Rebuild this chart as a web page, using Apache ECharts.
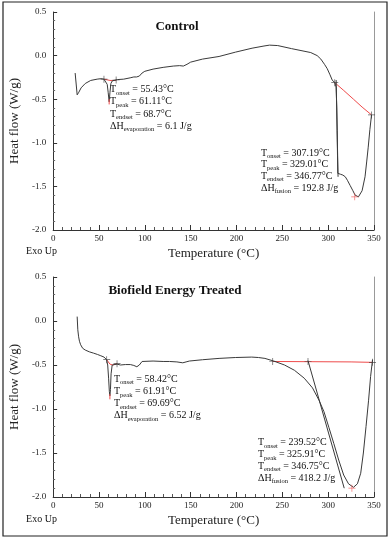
<!DOCTYPE html>
<html>
<head>
<meta charset="utf-8">
<script src="https://cdn.jsdelivr.net/npm/echarts@6/dist/echarts.min.js"></script>
<style>
html,body{margin:0;padding:0;background:#fff;}
#chart{width:392px;height:541px;}
</style>
</head>
<body>
<div id="chart"></div>
<script>
// ---------- DATA ----------
const xTicks = [0, 50, 100, 150, 200, 250, 300, 350];
const yTicks = [-2.0, -1.5, -1.0, -0.5, 0.0, 0.5];

const controlTemp = [24.0,26.2,28,30.5,35,41,48,52,55.4,57,59,60,61.1,62,63,64.5,66.3,70,77,84,88,91,94,97,100,109,120,131,138,142,146,150,163,181,199,217,230,236,245,260,281,288,292,296,299,302,304.4,307.2,308.7,309.4,309.8,310.2,310.5,313.3,316,318.7,321,324,327,329.4,333,335,337,340.2,342,343.7,345.5,347.3];
const controlFlow = [-0.20,-0.45,-0.42,-0.37,-0.32,-0.285,-0.27,-0.265,-0.27,-0.29,-0.33,-0.42,-0.53,-0.42,-0.32,-0.29,-0.28,-0.275,-0.27,-0.255,-0.245,-0.245,-0.235,-0.2,-0.18,-0.155,-0.135,-0.12,-0.115,-0.12,-0.1,-0.075,-0.04,-0.01,0.04,0.085,0.11,0.12,0.115,0.08,0.035,0.0,-0.04,-0.1,-0.15,-0.22,-0.28,-0.31,-0.36,-0.6,-0.86,-1.15,-1.35,-1.36,-1.37,-1.39,-1.43,-1.49,-1.55,-1.60,-1.62,-1.60,-1.55,-1.39,-1.22,-1.05,-0.85,-0.68];

const treatedTemp = [26.2,26.9,27.8,28.7,30,32.2,35,39.4,44,48.3,52,55.5,58.4,59.5,60.5,61.3,61.9,62.5,63.2,64.4,66,69.7,73.4,78.8,84.2,88,91.3,94,97,98.5,109,120,127,135,141.4,145,148.6,163,181,198.7,216.6,224,231,240.6,252.4,263.2,273.9,282.9,290,295.4,300.8,306.1,311.5,316.9,322.2,327.6,331.9,335.5,338.4,341.3,344.1,346.3,348.4];
const treatedFlow = [0.05,-0.1,-0.18,-0.23,-0.27,-0.31,-0.33,-0.35,-0.365,-0.38,-0.395,-0.41,-0.44,-0.5,-0.65,-0.8,-0.85,-0.78,-0.6,-0.5,-0.49,-0.49,-0.5,-0.495,-0.495,-0.505,-0.52,-0.5,-0.46,-0.455,-0.455,-0.46,-0.46,-0.465,-0.475,-0.465,-0.455,-0.44,-0.425,-0.415,-0.41,-0.415,-0.425,-0.455,-0.50,-0.56,-0.65,-0.76,-0.90,-1.03,-1.21,-1.39,-1.58,-1.75,-1.85,-1.89,-1.85,-1.73,-1.50,-1.20,-0.90,-0.63,-0.44];

// red integration baselines
const ctrlBase1Temp = [55.43, 62, 68.7];
const ctrlBase1Flow = [-0.27, -0.285, -0.285];
const ctrlBase2Temp = [307.19, 317, 327.6, 337, 347.3];
const ctrlBase2Flow = [-0.31, -0.40, -0.50, -0.59, -0.68];
const trtBase1Temp = [58.42, 62, 65, 69.69];
const trtBase1Flow = [-0.44, -0.49, -0.50, -0.485];
const trtBase2Temp = [239.52, 325, 348.4];
const trtBase2Flow = [-0.46, -0.465, -0.47];

// red peak tips
const ctrlTipTemp = [61.11, 61.11];
const ctrlTipFlow = [-0.50, -0.56];
const trtTipTemp = [61.91, 61.91];
const trtTipFlow = [-0.83, -0.89];

// tangent lines
const ctrlTanTemp = [308.7, 310.8];
const ctrlTanFlow = [-0.28, -1.39];
const trtTanTemp = [278, 317.5];
const trtTanFlow = [-0.45, -1.9];

// '+' markers (onset / endset)
const ctrlMarkTemp = [55.43, 68.7, 307.19, 347.3];
const ctrlMarkFlow = [-0.27, -0.28, -0.31, -0.68];
const ctrlPeakTemp = [329.01];
const ctrlPeakFlow = [-1.62];
const trtMarkTemp = [58.42, 69.69, 239.52, 278, 348.4];
const trtMarkFlow = [-0.44, -0.485, -0.46, -0.46, -0.47];
const trtPeakTemp = [325.91];
const trtPeakFlow = [-1.9];

// annotation texts
const ctrlNote1 = [['T','onset',' = 55.43°C'],['T','peak',' = 61.11°C'],['T','endset',' = 68.7°C'],['ΔH','evaporation',' = 6.1 J/g']];
const ctrlNote2 = [['T','onset',' = 307.19°C'],['T','peak',' = 329.01°C'],['T','endset',' = 346.77°C'],['ΔH','fusion',' = 192.8 J/g']];
const trtNote1 = [['T','onset',' = 58.42°C'],['T','peak',' = 61.91°C'],['T','endset',' = 69.69°C'],['ΔH','evaporation',' = 6.52 J/g']];
const trtNote2 = [['T','onset',' = 239.52°C'],['T','peak',' = 325.91°C'],['T','endset',' = 346.75°C'],['ΔH','fusion',' = 418.2 J/g']];

// ---------- CHART ----------
const zip = (a, b) => a.map((v, i) => [v, b[i]]);
const SERIF = '"Liberation Serif","DejaVu Serif",serif';
const CURVE = '#3a3a3a';
const RED = '#ef4b4b';
const PLUS = 'path://M4.5,0h1v10h-1zM0,4.5h10v1h-10z';

const chart = echarts.init(document.getElementById('chart'), null, {renderer: 'canvas'});

function xAxisDef(gi) {
  return {
    gridIndex: gi, type: 'value', min: 0, max: 350, interval: 50,
    name: 'Temperature (°C)', nameLocation: 'middle', nameGap: 17,
    nameTextStyle: {fontFamily: SERIF, fontSize: 13, color: '#222'},
    axisLine: {onZero: false, lineStyle: {color: '#333', width: 1}},
    axisTick: {inside: true, length: 5, lineStyle: {color: '#333'}},
    minorTick: {show: true, splitNumber: 5, length: 3, lineStyle: {color: '#555'}},
    axisLabel: {fontFamily: SERIF, fontSize: 9, color: '#222', margin: 4,
      customValues: xTicks},
    splitLine: {show: false}
  };
}
function yAxisDef(gi) {
  return {
    gridIndex: gi, type: 'value', min: -2, max: 0.5, interval: 0.5,
    name: 'Heat flow (W/g)', nameLocation: 'middle', nameGap: 22, nameRotate: 90,
    nameTextStyle: {fontFamily: SERIF, fontSize: 13, color: '#222'},
    axisLine: {show: true, onZero: false, lineStyle: {color: '#333', width: 1}},
    axisTick: {show: true, inside: true, length: 4, lineStyle: {color: '#333'}},
    minorTick: {show: true, splitNumber: 5, length: 2, lineStyle: {color: '#666'}},
    axisLabel: {fontFamily: SERIF, fontSize: 9, color: '#222', margin: 7,
      formatter: v => v.toFixed(1)},
    splitLine: {show: false}
  };
}
function rightAxisDef(gi) {
  return {
    gridIndex: gi, type: 'value', min: -2, max: 0.5, interval: 0.5, position: 'right',
    axisLine: {show: true, onZero: false, lineStyle: {color: '#999', width: 1}},
    axisTick: {show: false}, axisLabel: {show: false}, splitLine: {show: false}
  };
}
function lineS(xi, yi, data, color, w) {
  return {type: 'line', xAxisIndex: xi, yAxisIndex: yi, data: data, showSymbol: false,
    symbol: 'none', smooth: false, lineStyle: {color: color, width: w || 1}, silent: true, z: 3};
}
function markS(xi, yi, data, color) {
  return {type: 'scatter', xAxisIndex: xi, yAxisIndex: yi, data: data, symbol: PLUS,
    symbolSize: 7, itemStyle: {color: color}, silent: true, z: 5};
}
function noteText(rows, x, y, lh) {
  const text = rows.map(r => '{m|' + r[0] + '}{s|' + r[1] + '}{m|' + r[2] + '}').join('\n');
  return {type: 'text', left: x, top: y, silent: true,
    style: {text: text, fontFamily: SERIF, fill: '#111',
      rich: {
        m: {fontFamily: SERIF, fontSize: 10, lineHeight: lh, fill: '#111', verticalAlign: 'middle'},
        s: {fontFamily: SERIF, fontSize: 6.5, lineHeight: 6, fill: '#111', verticalAlign: 'bottom', padding: [0, 0, -1, 0]}
      }}};
}
function plainText(t, cx, cy, size, bold) {
  return {type: 'text', x: cx, y: cy, silent: true,
    style: {text: t, fontFamily: SERIF, fontSize: size, fontWeight: bold ? 'bold' : 'normal',
      fill: '#111', align: 'center', verticalAlign: 'middle'}};
}

const option = {
  animation: false,
  backgroundColor: '#fff',
  grid: [
    {left: 48, top: 12, width: 326, height: 218},
    {left: 48, top: 277, width: 326, height: 220}
  ],
  xAxis: [xAxisDef(0), xAxisDef(1)],
  yAxis: [yAxisDef(0), rightAxisDef(0), yAxisDef(1), rightAxisDef(1)],
  series: [
    lineS(0, 0, zip(ctrlBase1Temp, ctrlBase1Flow), RED),
    lineS(0, 0, zip(ctrlBase2Temp, ctrlBase2Flow), RED),
    lineS(0, 0, zip(controlTemp, controlFlow), CURVE),
    lineS(0, 0, zip(ctrlTanTemp, ctrlTanFlow), CURVE),
    lineS(0, 0, zip(ctrlTipTemp, ctrlTipFlow), RED),
    markS(0, 0, zip(ctrlMarkTemp, ctrlMarkFlow), '#333'),
    markS(0, 0, zip(ctrlPeakTemp, ctrlPeakFlow), RED),

    lineS(1, 2, zip(trtBase1Temp, trtBase1Flow), RED),
    lineS(1, 2, zip(trtBase2Temp, trtBase2Flow), RED),
    lineS(1, 2, zip(treatedTemp, treatedFlow), CURVE),
    lineS(1, 2, zip(trtTanTemp, trtTanFlow), CURVE),
    lineS(1, 2, zip(trtTipTemp, trtTipFlow), RED),
    markS(1, 2, zip(trtMarkTemp, trtMarkFlow), '#333'),
    markS(1, 2, zip(trtPeakTemp, trtPeakFlow), RED)
  ],
  graphic: [
    {type: 'rect', shape: {x: 3, y: 2, width: 384, height: 534}, silent: true,
      style: {fill: 'none', stroke: '#222', lineWidth: 1.2}},
    plainText('Control', 177, 27, 13, true),
    plainText('Biofield Energy Treated', 175, 291, 13, true),
    plainText('Exo Up', 41.5, 251, 10, false),
    plainText('Exo Up', 41.5, 519, 10, false),
    noteText(ctrlNote1, 110, 84.5, 12.2),
    noteText(ctrlNote2, 261, 148, 11.7),
    noteText(trtNote1, 114, 374, 12.2),
    noteText(trtNote2, 258, 437.5, 11.9)
  ]
};
chart.setOption(option);
</script>
</body>
</html>
